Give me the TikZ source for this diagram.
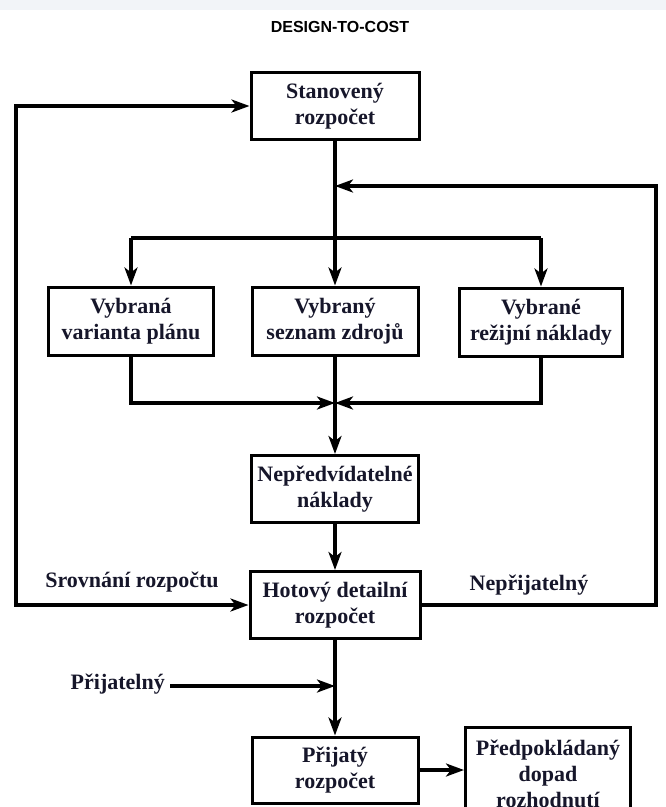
\documentclass[tikz,border=0pt]{standalone}
\usepackage{fontspec}
\setmainfont{Liberation Serif}
\newfontfamily\titlefont{Liberation Sans}
\usetikzlibrary{arrows.meta}
\definecolor{ink}{HTML}{16162A}
\definecolor{strip}{HTML}{F2F4F8}
\begin{document}
\begin{tikzpicture}[x=1pt,y=-1pt,
  every node/.style={text=ink},
  box/.style={draw=black,line width=3pt,fill=white,align=center,
    minimum width=168pt,minimum height=67pt,inner sep=2pt,
    font=\fontsize{22}{26}\selectfont\bfseries},
  lbl/.style={font=\fontsize{22}{26}\selectfont\bfseries,inner sep=1pt},
  conn/.style={line width=3.6pt,draw=black},
  tip/.style={-{Stealth[length=18pt,width=13pt,inset=5pt]}},
  arr/.style={conn,tip},
]
\useasboundingbox (0,0) rectangle (666,807);
\fill[strip] (0,0) rectangle (666,10);

\node[font=\titlefont\fontsize{16}{18}\selectfont\bfseries,text=black] (title) at (340,27) {DESIGN-TO-COST};

% boxes of the main column and the three selections
\node[box] (sb) at (335,106) {Stanovený\\rozpočet};
\node[box,minimum width=165pt,minimum height=68pt] (vp) at (131,321) {Vybraná\\varianta plánu};
\node[box,minimum width=166pt,minimum height=68pt] (sz) at (335,321) {Vybraný\\seznam zdrojů};
\node[box,minimum width=163pt,minimum height=68pt] (rn) at (541,322) {Vybrané\\režijní náklady};
\node[box,minimum width=167pt] (nn) at (335,489) {Nepředvídatelné\\náklady};
\node[box,minimum width=170pt] (hd) at (335,605) {Hotový detailní\\rozpočet};
\node[box,minimum width=166pt,minimum height=66pt] (pr) at (335,770) {Přijatý\\rozpočet};
\node[box,minimum width=165pt,minimum height=94pt] (pd) at (548,774) {Předpokládaný\\dopad\\rozhodnutí};

% labels
\node[lbl] (srl) at (132,582) {Srovnání rozpočtu};
\node[lbl] (nel) at (529,585) {Nepřijatelný};
\node[lbl,anchor=east] (pjl) at (166,684) {Přijatelný};

% junction points
\coordinate (lt) at (16,106);
\coordinate (rt) at (656,186);
\coordinate (fb) at (335,186);
\coordinate (bl) at (131,238);
\coordinate (br) at (541,238);
\coordinate (mj) at (335,403);
\coordinate (pj) at (335,686);

% comparison loop back to the set budget
\draw[conn,{Stealth[length=18pt,width=13pt,inset=5pt]}-{Stealth[length=18pt,width=13pt,inset=5pt]}]
  (sb.west) -- (lt) |- (hd.west);

% unacceptable result goes back up
\draw[arr] (hd.east) -| (rt) -- (fb);

% distribution to the three selections
\draw[arr] (sb.south) -- (sz.north);
\draw[conn] (bl) -- (br);
\draw[arr] (bl) -- (vp.north);
\draw[arr] (br) -- (rn.north);

% merging into contingencies
\draw[arr] (vp.south) |- (mj);
\draw[arr] (rn.south) |- (mj);
\draw[arr] (sz.south) -- (nn.north);

% lower chain
\draw[arr] (nn.south) -- (hd.north);
\draw[arr] (hd.south) -- (pr.north);
\draw[arr] (pjl.east) ++(4,2) -- (pj);
\draw[arr] (pr.east) -- (pr.east -| pd.west);
\end{tikzpicture}
\end{document}
